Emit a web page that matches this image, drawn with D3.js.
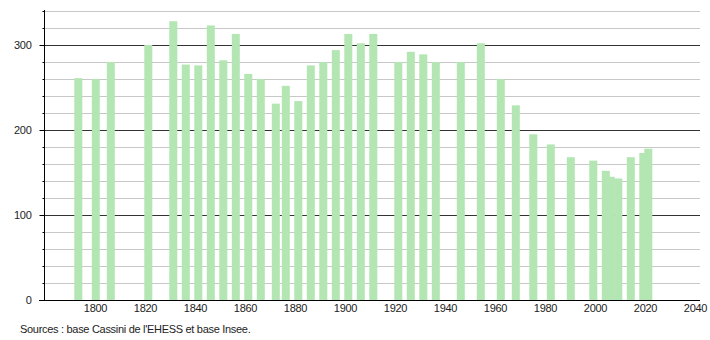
<!DOCTYPE html>
<html>
<head>
<meta charset="utf-8">
<script src="https://cdn.jsdelivr.net/npm/d3@7"></script>
<style>
  body { margin: 0; background: #fff; }
  text { font-family: "Liberation Sans", Arial, sans-serif; fill: #222; letter-spacing: -0.3px; }
</style>
</head>
<body>
<div id="chart"></div>
<script>
// census years and population
const years = [1793, 1800, 1806, 1821, 1831, 1836, 1841, 1846, 1851, 1856,
  1861, 1866, 1872, 1876, 1881, 1886, 1891, 1896, 1901, 1906,
  1911, 1921, 1926, 1931, 1936, 1946, 1954, 1962, 1968, 1975,
  1982, 1990, 1999, 2004, 2006, 2009, 2014, 2019, 2021]
const population = [261, 260, 280, 300, 328, 277, 276, 323, 282, 313,
  266, 260, 231, 252, 234, 276, 280, 294, 313, 302,
  313, 280, 292, 289, 280, 280, 302, 260, 229, 195,
  183, 168, 164, 152, 145, 143, 168, 173, 178]
const xTicks = [1800, 1820, 1840, 1860, 1880, 1900, 1920, 1940, 1960, 1980, 2000, 2020, 2040]
const yTicks = [0, 100, 200, 300]
const sourceText = "Sources : base Cassini de l'EHESS et base Insee."

const chart_width = 710
const chart_height = 340
const plot_left = 44
const plot_right = 700
const plot_bottom = 300
const plot_top = 10
const bar_width = 8

const svg = d3.select("#chart").append("svg")
  .attr("width", chart_width)
  .attr("height", chart_height)

const x = d3.scaleLinear().domain([1780, 2042]).range([plot_left + 1, plot_right])
const y = d3.scaleLinear().domain([0, 340]).range([plot_bottom, 11])

// minor grid every 20
const minor = y.ticks(17).filter(v => v % 100 !== 0)
svg.append("g").selectAll("line")
  .data(minor)
  .enter().append("line")
    .attr("x1", plot_left + 1).attr("x2", plot_right)
    .attr("y1", d => Math.round(y(d)) + 0.5).attr("y2", d => Math.round(y(d)) + 0.5)
    .attr("stroke", "#c8c8c8")

svg.append("g").selectAll("line")
  .data(yTicks.filter(v => v > 0))
  .enter().append("line")
    .attr("x1", plot_left).attr("x2", plot_right)
    .attr("y1", d => Math.round(y(d)) + 0.5).attr("y2", d => Math.round(y(d)) + 0.5)
    .attr("stroke", "#333")

// bars
const data = years.map((yr, i) => ({ year: yr, value: population[i] }))
svg.append("g").selectAll("rect")
  .data(data)
  .enter().append("rect")
    .attr("x", d => x(d.year) - bar_width / 2 + 0.8)
    .attr("y", d => y(d.value))
    .attr("width", bar_width)
    .attr("height", d => plot_bottom - y(d.value))
    .attr("fill", "#b3e6b3")

// y axis
const yAxis = d3.axisLeft(y)
  .tickValues(y.ticks(17))
  .tickSize(2)
  .tickFormat(d => yTicks.includes(d) ? d : "")
const gy = svg.append("g")
  .attr("transform", `translate(${plot_left + 0.5},0)`)
  .call(yAxis)
gy.select(".domain").remove()
gy.selectAll(".tick line").attr("stroke", "#000")
  .attr("x2", d => yTicks.includes(d) ? -5 : -2)
gy.selectAll(".tick text")
  .attr("x", -13)
  .style("font-size", "11px")
  .style("font-family", null)
gy.append("line")
  .attr("y1", plot_top).attr("y2", plot_bottom)
  .attr("stroke", "#000")

// x axis
const xAxis = d3.axisBottom(x).tickValues(xTicks).tickSize(0).tickFormat(d3.format("d"))
const gx = svg.append("g")
  .attr("transform", `translate(0,${plot_bottom + 0.5})`)
  .call(xAxis)
gx.select(".domain").remove()
gx.selectAll(".tick text")
  .attr("y", 4)
  .style("font-size", "11px")
  .style("font-family", null)
gx.append("line")
  .attr("x1", plot_left - 5).attr("x2", plot_right)
  .attr("stroke", "#000")

svg.append("text")
  .attr("x", 20)
  .attr("y", 333)
  .style("font-size", "11px")
  .text(sourceText)
</script>
</body>
</html>
